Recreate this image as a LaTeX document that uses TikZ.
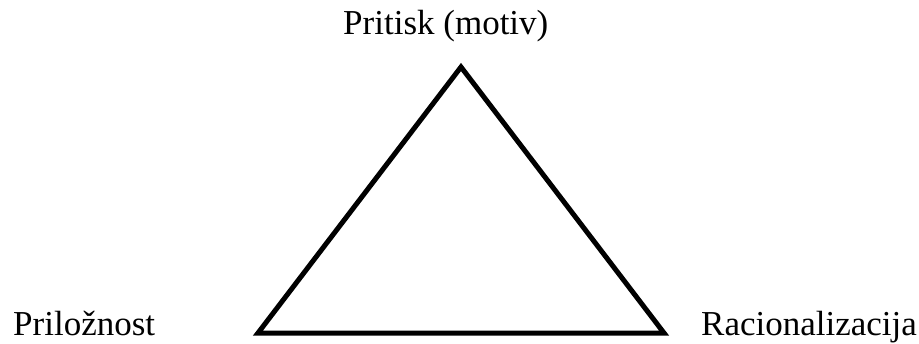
\documentclass[tikz,border=0pt]{standalone}
\usepackage{fontspec}
\setmainfont{Liberation Serif}
\begin{document}
\begin{tikzpicture}[x=1pt,y=1pt,
vertex/.style={font=\fontsize{35}{38}\selectfont,inner sep=0pt,anchor=base west},
side/.style={line width=5pt,line join=miter,draw=black}]
\useasboundingbox (0,0) rectangle (919,343);
\coordinate (top) at (461,276);
\coordinate (left) at (258,10);
\coordinate (right) at (664,10);
\node[vertex](pritisk) at (343,308){Pritisk (motiv)};
\node[vertex](priloznost) at (13,8){Priložnost};
\node[vertex](racionalizacija) at (701,8){Racionalizacija};
\draw[side](top)--(right)--(left)--cycle;
\end{tikzpicture}
\end{document}
